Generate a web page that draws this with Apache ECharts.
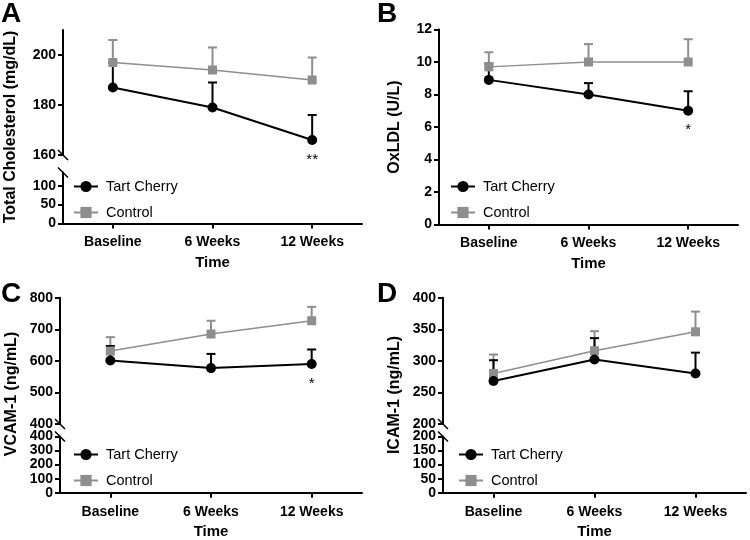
<!DOCTYPE html>
<html>
<head>
<meta charset="utf-8">
<script src="https://cdn.jsdelivr.net/npm/echarts@6/dist/echarts.min.js"></script>
<style>html,body{margin:0;padding:0;background:#fff}#c{width:750px;height:540px}</style>
</head>
<body>
<div id="c"></div>
<script>
// ---------- data ----------
const categories = ['Baseline', '6 Weeks', '12 Weeks'];
const seriesNames = ['Tart Cherry', 'Control'];

// A: Total Cholesterol (mg/dL)
const cholTartMean = [187, 179, 166];
const cholTartErr  = [10, 10, 10];
const cholCtrlMean = [197, 194, 190];
const cholCtrlErr  = [9, 9, 9];
const cholSig      = ['', '', '**'];
const cholUpperTicks = [160, 180, 200];
const cholLowerTicks = [0, 50, 100];

// B: OxLDL (U/L)
const oxTartMean = [8.9, 8.0, 7.0];
const oxTartErr  = [1.0, 0.7, 1.2];
const oxCtrlMean = [9.7, 10.0, 10.0];
const oxCtrlErr  = [0.9, 1.1, 1.4];
const oxSig      = ['', '', '*'];
const oxTicks    = [0, 2, 4, 6, 8, 10, 12];

// C: VCAM-1 (ng/mL)
const vcamTartMean = [601, 577, 590];
const vcamTartErr  = [46, 45, 46];
const vcamCtrlMean = [631, 685, 727];
const vcamCtrlErr  = [44, 42, 44];
const vcamSig      = ['', '', '*'];
const vcamUpperTicks = [400, 500, 600, 700, 800];
const vcamLowerTicks = [0, 100, 200, 300, 400];

// D: ICAM-1 (ng/mL)
const icamTartMean = [268, 302, 280];
const icamTartErr  = [33, 34, 33];
const icamCtrlMean = [280, 316, 346];
const icamCtrlErr  = [30, 31, 32];
const icamSig      = ['', '', ''];
const icamUpperTicks = [200, 250, 300, 350, 400];
const icamLowerTicks = [0, 50, 100, 150, 200];

// ---------- style ----------
const FONT = 'Liberation Sans, Arial, sans-serif';
const BLACK = '#000';
const GRAY = '#8e8e8e';

const chart = echarts.init(document.getElementById('c'), null, {renderer: 'canvas'});

// grid layout
const L = {
  aUp:  {left: 63,  top: 30,    width: 299, height: 125},
  aLo:  {left: 63,  top: 172.5, width: 299, height: 51},
  b:    {left: 439, top: 29.5,  width: 299, height: 195},
  cUp:  {left: 60,  top: 297.7, width: 302, height: 126.3},
  cLo:  {left: 60,  top: 436.5, width: 302, height: 56.2},
  dUp:  {left: 443, top: 297.7, width: 303, height: 126.3},
  dLo:  {left: 443, top: 436.5, width: 303, height: 56.2}
};
const gridKeys = ['aUp', 'aLo', 'b', 'cUp', 'cLo', 'dUp', 'dLo'];
const grids = gridKeys.map(k => Object.assign({containLabel: false, outerBoundsMode: 'none'}, L[k]));

function xAx(gi, show) {
  return {
    type: 'category', gridIndex: gi, data: categories, boundaryGap: true,
    show: show,
    axisLine: {show: true, lineStyle: {color: BLACK, width: 2}},
    axisTick: {show: true, alignWithLabel: true, length: 5, lineStyle: {color: BLACK, width: 2}},
    axisLabel: {show: true, margin: 12, color: BLACK, fontFamily: FONT, fontWeight: 'bold', fontSize: 14},
    name: show ? 'Time' : '', nameLocation: 'middle', nameGap: 32,
    nameTextStyle: {color: BLACK, fontFamily: FONT, fontWeight: 'bold', fontSize: 15},
    splitLine: {show: false}
  };
}
function yAx(gi, min, max, ticks) {
  return {
    type: 'value', gridIndex: gi, min: min, max: max,
    axisLine: {show: true, lineStyle: {color: BLACK, width: 2}},
    axisTick: {show: true, length: 5, customValues: ticks, lineStyle: {color: BLACK, width: 2}},
    axisLabel: {margin: 7, color: BLACK, fontFamily: FONT, fontWeight: 'bold', fontSize: 14,
                lineHeight: 13, customValues: ticks, showMinLabel: true, showMaxLabel: true, hideOverlap: false},
    splitLine: {show: false}
  };
}

const xAxes = [xAx(0, false), xAx(1, true), xAx(2, true), xAx(3, false), xAx(4, true), xAx(5, false), xAx(6, true)];
const yAxes = [
  yAx(0, 160, 210, cholUpperTicks), yAx(1, 0, 135, cholLowerTicks),
  yAx(2, 0, 12, oxTicks),
  yAx(3, 400, 800, vcamUpperTicks), yAx(4, 0, 400, vcamLowerTicks),
  yAx(5, 200, 400, icamUpperTicks), yAx(6, 0, 200, icamLowerTicks)
];

function errSeries(idx, means, errs, color) {
  return {
    type: 'custom', xAxisIndex: idx, yAxisIndex: idx, z: 2, silent: true,
    data: means.map((m, i) => [i, m, errs[i]]),
    encode: {x: 0, y: 1},
    renderItem: function (params, api) {
      const i = api.value(0), m = api.value(1), e = api.value(2);
      const p0 = api.coord([i, m]);
      const p1 = api.coord([i, m + e]);
      const hw = 4.5;
      return {type: 'group', children: [
        {type: 'line', shape: {x1: p0[0], y1: p0[1], x2: p1[0], y2: p1[1]}, style: {stroke: color, lineWidth: 2}},
        {type: 'line', shape: {x1: p1[0] - hw, y1: p1[1], x2: p1[0] + hw, y2: p1[1]}, style: {stroke: color, lineWidth: 2}}
      ]};
    }
  };
}
function lineSeries(idx, name, means, color, symbol, size, width, sig) {
  const s = {
    type: 'line', name: name, xAxisIndex: idx, yAxisIndex: idx, z: 2,
    data: means, symbol: symbol, symbolSize: size, showSymbol: true,
    lineStyle: {color: color, width: width},
    itemStyle: {color: color, borderWidth: 0},
    emphasis: {disabled: true}
  };
  if (sig) {
    s.label = {show: true, position: 'bottom', distance: 7, color: BLACK, fontFamily: FONT,
               fontSize: 15, formatter: p => sig[p.dataIndex]};
  }
  return s;
}
function panel(idx, tM, tE, cM, cE, sig) {
  return [
    errSeries(idx, cM, cE, GRAY),
    lineSeries(idx, 'Control', cM, GRAY, 'rect', 9, 1.5, null),
    errSeries(idx, tM, tE, BLACK),
    lineSeries(idx, 'Tart Cherry', tM, BLACK, 'circle', 10, 2, sig)
  ];
}

const series = [].concat(
  panel(0, cholTartMean, cholTartErr, cholCtrlMean, cholCtrlErr, cholSig),
  panel(2, oxTartMean, oxTartErr, oxCtrlMean, oxCtrlErr, oxSig),
  panel(3, vcamTartMean, vcamTartErr, vcamCtrlMean, vcamCtrlErr, vcamSig),
  panel(5, icamTartMean, icamTartErr, icamCtrlMean, icamCtrlErr, icamSig)
);

function legend(left, top) {
  return {
    data: seriesNames, orient: 'vertical', left: left, top: top, padding: 0,
    itemWidth: 24, itemHeight: 14, itemGap: 11, selectedMode: false,
    textStyle: {color: BLACK, fontFamily: FONT, fontSize: 14.5, padding: [0, 0, 0, 3]}
  };
}

function yTitle(text, x, y) {
  return {type: 'text', x: x, y: y, rotation: Math.PI / 2,
    style: {text: text, fill: BLACK, font: 'bold 16px ' + FONT, align: 'center', verticalAlign: 'middle'}};
}
function letter(text, x, y) {
  return {type: 'text', x: x, y: y,
    style: {text: text, fill: BLACK, font: 'bold 28px ' + FONT, align: 'left', verticalAlign: 'top'}};
}
function brk(x, y) {
  return {type: 'line', shape: {x1: x - 5, y1: y - 5, x2: x + 5, y2: y + 5},
    style: {stroke: BLACK, lineWidth: 1.5}};
}
function breakMarks(up, lo) {
  return [brk(up.left, up.top + up.height), brk(lo.left, lo.top)];
}

const graphics = [
  letter('A', 1, 0), letter('B', 377, 0), letter('C', 1, 280), letter('D', 377, 280),
  yTitle('Total Cholesterol (mg/dL)', 11, 127),
  yTitle('OxLDL (U/L)', 395, 127),
  yTitle('VCAM-1 (ng/mL)', 12, 394),
  yTitle('ICAM-1 (ng/mL)', 395, 395)
].concat(breakMarks(L.aUp, L.aLo), breakMarks(L.cUp, L.cLo), breakMarks(L.dUp, L.dLo));

chart.setOption({
  animation: false,
  backgroundColor: '#fff',
  grid: grids,
  xAxis: xAxes,
  yAxis: yAxes,
  legend: [legend(73, 179), legend(450, 179), legend(73, 447), legend(458, 447)],
  series: series,
  graphic: graphics
});
</script>
</body>
</html>
